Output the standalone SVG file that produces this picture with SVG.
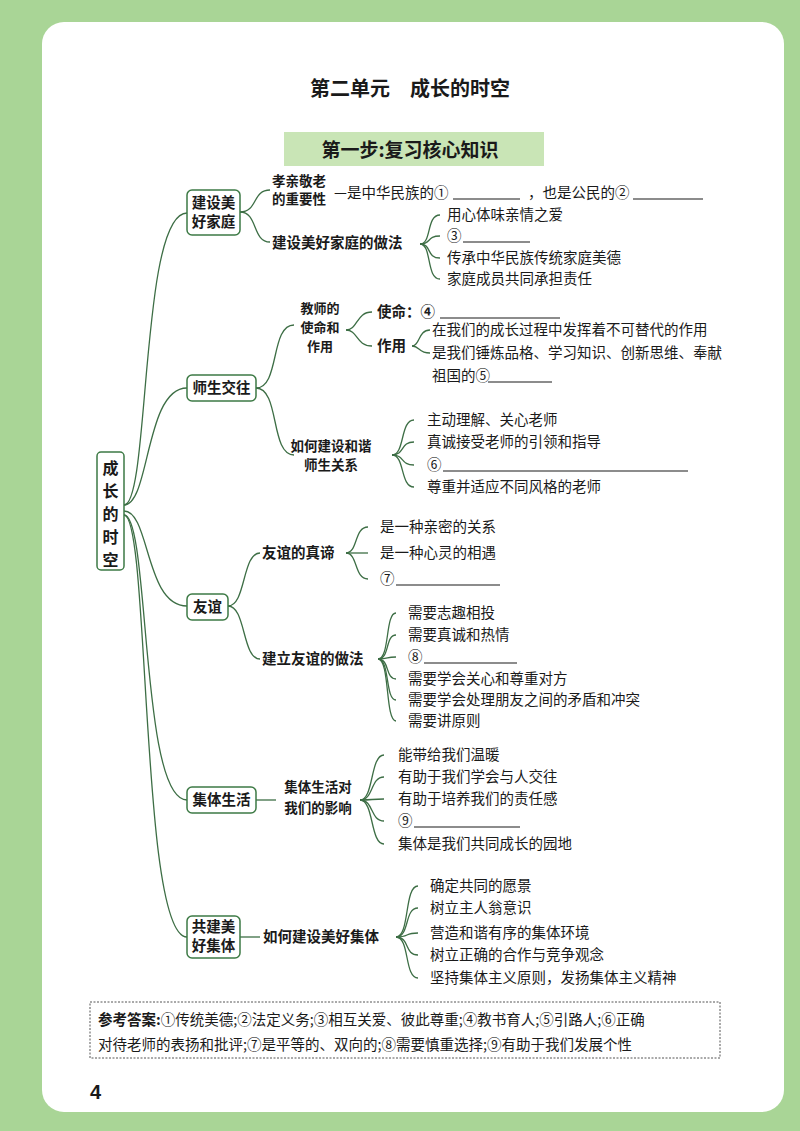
<svg xmlns="http://www.w3.org/2000/svg" width="800" height="1131" viewBox="0 0 800 1131">
<style>
text{font-family:"Noto Sans CJK SC","Noto Sans",sans-serif;fill:#1a1a1a;font-size:14.5px}
.b{font-weight:bold}
.m{font-size:13.5px}
.s{font-size:13px}
.box{fill:#fff;stroke:#3d7a45;stroke-width:1.5}
.c path{fill:none;stroke:#3d6e45;stroke-width:1.3}
.u{stroke:#1a1a1a;stroke-width:1.2}
</style>
<rect width="800" height="1131" fill="#a9d596"/>
<rect x="42" y="22" width="742" height="1090" rx="22" fill="#fff"/>
<text x="410" y="96" text-anchor="middle" class="b" style="font-size:20px">第二单元　成长的时空</text>
<rect x="284" y="132" width="260" height="34" fill="#c9e5b6"/>
<text x="410" y="157" text-anchor="middle" class="b" style="font-size:19px">第一步:复习核心知识</text>

<g class="c" id="connectors">
<path d="M124,505 C150,505 140,213 187,213"/>
<path d="M124,505 C150,505 145,388 187,388"/>
<path d="M124,511 C150,511 145,606 187,606"/>
<path d="M124,515 C150,515 140,800 187,800"/>
<path d="M124,515 C150,515 140,937 187,937"/>
<path d="M240,212 C258,212 252,190 270,190"/>
<path d="M240,212 C258,212 252,242 270,242"/>
<path d="M420,244 C432,244 426,215 440,215"/>
<path d="M420,244 C432,244 426,236 440,236"/>
<path d="M420,244 C432,244 426,258 440,258"/>
<path d="M420,244 C432,244 426,279 440,279"/>
<path d="M256,388 C280,388 270,325 294,325"/>
<path d="M256,388 C280,388 270,455 294,455"/>
<path d="M346,330 C358,330 356,312 372,312"/>
<path d="M346,330 C358,330 356,346 372,346"/>
<path d="M412,346 C420,346 418,330 430,330"/>
<path d="M412,346 C420,346 418,353 430,353"/>
<path d="M392,455 C405,455 400,420 414,420"/>
<path d="M392,455 C405,455 400,442 414,442"/>
<path d="M392,455 C405,455 400,465 414,465"/>
<path d="M392,455 C405,455 400,487 414,487"/>
<path d="M228,606 C246,606 242,553 260,553"/>
<path d="M228,606 C246,606 242,659 260,659"/>
<path d="M346,553 C358,553 354,527 368,527"/>
<path d="M346,553 C358,553 354,553 368,553"/>
<path d="M346,553 C358,553 354,579 368,579"/>
<path d="M378,659 C390,659 385,613 396,613"/>
<path d="M378,659 C390,659 385,635 396,635"/>
<path d="M378,659 C390,659 385,657 396,657"/>
<path d="M378,659 C390,659 385,679 396,679"/>
<path d="M378,659 C390,659 385,700 396,700"/>
<path d="M378,659 C390,659 385,721 396,721"/>
<path d="M256,800 C266,800 266,800 276,800"/>
<path d="M360,800 C374,800 370,755 384,755"/>
<path d="M360,800 C374,800 370,777 384,777"/>
<path d="M360,800 C374,800 370,799 384,799"/>
<path d="M360,800 C374,800 370,821 384,821"/>
<path d="M360,800 C374,800 370,844 384,844"/>
<path d="M240,937 C250,937 250,937 260,937"/>
<path d="M396,937 C410,937 404,886 418,886"/>
<path d="M396,937 C410,937 404,908 418,908"/>
<path d="M396,937 C410,937 404,933 418,933"/>
<path d="M396,937 C410,937 404,955 418,955"/>
<path d="M396,937 C410,937 404,978 418,978"/>
</g>

<g id="root"><rect class="box" x="97" y="452" width="27" height="118" rx="4"/>
<text x="110.5" y="474" text-anchor="middle" class="b" style="font-size:16px">成</text>
<text x="110.5" y="497" text-anchor="middle" class="b" style="font-size:16px">长</text>
<text x="110.5" y="520" text-anchor="middle" class="b" style="font-size:16px">的</text>
<text x="110.5" y="543" text-anchor="middle" class="b" style="font-size:16px">时</text>
<text x="110.5" y="566" text-anchor="middle" class="b" style="font-size:16px">空</text></g>

<g id="n-family"><rect class="box" x="187" y="190" width="53" height="45" rx="5"/>
<text x="213.5" y="208" text-anchor="middle" class="b">建设美</text><text x="213.5" y="227" text-anchor="middle" class="b">好家庭</text>
<text x="272" y="186" class="b m">孝亲敬老</text><text x="272" y="204" class="b m">的重要性</text>
<text x="334" y="198">—是中华民族的①</text><line class="u" x1="453" y1="199" x2="520" y2="199"/>
<text x="528" y="198">，也是公民的②</text><line class="u" x1="633" y1="199" x2="703" y2="199"/>
<text x="272" y="248" class="b">建设美好家庭的做法</text>
<text x="447" y="220">用心体味亲情之爱</text>
<text x="447" y="241">③</text><line class="u" x1="463" y1="242" x2="530" y2="242"/>
<text x="447" y="263">传承中华民族传统家庭美德</text>
<text x="447" y="284">家庭成员共同承担责任</text></g>

<g id="n-teacher"><rect class="box" x="187" y="375" width="69" height="26" rx="5"/>
<text x="221.5" y="393" text-anchor="middle" class="b">师生交往</text>
<text x="320" y="313" text-anchor="middle" class="b s">教师的</text><text x="320" y="332" text-anchor="middle" class="b s">使命和</text><text x="320" y="351" text-anchor="middle" class="b s">作用</text>
<text x="377" y="317" class="b">使命：④</text><line class="u" x1="440" y1="318" x2="560" y2="318"/>
<text x="377" y="351" class="b">作用</text>
<text x="432" y="335">在我们的成长过程中发挥着不可替代的作用</text>
<text x="432" y="358">是我们锤炼品格、学习知识、创新思维、奉献</text>
<text x="432" y="381">祖国的⑤</text><line class="u" x1="488" y1="382" x2="552" y2="382"/>
<text x="331" y="451" text-anchor="middle" class="b m">如何建设和谐</text><text x="331" y="470" text-anchor="middle" class="b m">师生关系</text>
<text x="427" y="425">主动理解、关心老师</text>
<text x="427" y="447">真诚接受老师的引领和指导</text>
<text x="427" y="470">⑥</text><line class="u" x1="443" y1="471" x2="688" y2="471"/>
<text x="427" y="492">尊重并适应不同风格的老师</text></g>

<g id="n-friend"><rect class="box" x="187" y="594" width="41" height="26" rx="5"/>
<text x="207.5" y="612" text-anchor="middle" class="b">友谊</text>
<text x="262" y="558" class="b">友谊的真谛</text>
<text x="380" y="532">是一种亲密的关系</text>
<text x="380" y="558">是一种心灵的相遇</text>
<text x="380" y="584">⑦</text><line class="u" x1="396" y1="585" x2="500" y2="585"/>
<text x="262" y="664" class="b">建立友谊的做法</text>
<text x="408" y="618">需要志趣相投</text>
<text x="408" y="640">需要真诚和热情</text>
<text x="408" y="662">⑧</text><line class="u" x1="424" y1="663" x2="517" y2="663"/>
<text x="408" y="684">需要学会关心和尊重对方</text>
<text x="408" y="705">需要学会处理朋友之间的矛盾和冲突</text>
<text x="408" y="726">需要讲原则</text></g>

<g id="n-group"><rect class="box" x="187" y="787" width="69" height="26" rx="5"/>
<text x="221.5" y="805" text-anchor="middle" class="b">集体生活</text>
<text x="318" y="792" text-anchor="middle" class="b m">集体生活对</text><text x="318" y="813" text-anchor="middle" class="b m">我们的影响</text>
<text x="398" y="760">能带给我们温暖</text>
<text x="398" y="782">有助于我们学会与人交往</text>
<text x="398" y="804">有助于培养我们的责任感</text>
<text x="398" y="826">⑨</text><line class="u" x1="414" y1="827" x2="520" y2="827"/>
<text x="398" y="849">集体是我们共同成长的园地</text></g>

<g id="n-build"><rect class="box" x="187" y="916" width="53" height="42" rx="5"/>
<text x="213.5" y="932" text-anchor="middle" class="b">共建美</text><text x="213.5" y="951" text-anchor="middle" class="b">好集体</text>
<text x="263" y="942" class="b">如何建设美好集体</text>
<text x="430" y="891">确定共同的愿景</text>
<text x="430" y="913">树立主人翁意识</text>
<text x="430" y="938">营造和谐有序的集体环境</text>
<text x="430" y="960">树立正确的合作与竞争观念</text>
<text x="430" y="983">坚持集体主义原则，发扬集体主义精神</text></g>

<rect x="90" y="1002" width="630" height="56" fill="none" stroke="#555" stroke-width="1" stroke-dasharray="2,1.5"/>
<text x="98" y="1025" style="font-size:14.5px"><tspan class="b">参考答案:</tspan>①传统美德;②法定义务;③相互关爱、彼此尊重;④教书育人;⑤引路人;⑥正确</text>
<text x="98" y="1050" style="font-size:14.5px">对待老师的表扬和批评;⑦是平等的、双向的;⑧需要慎重选择;⑨有助于我们发展个性</text>
<text x="90" y="1099" class="b" style="font-size:20px;font-family:'Liberation Sans',sans-serif">4</text>
</svg>
